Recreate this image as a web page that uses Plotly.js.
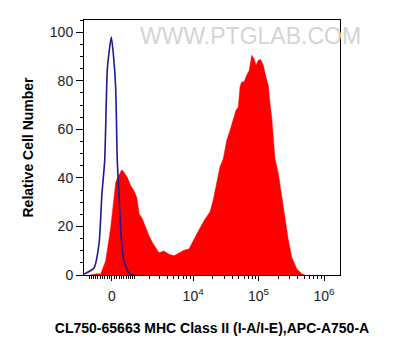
<!DOCTYPE html>
<html>
<head>
<meta charset="utf-8">
<script src="https://cdn.plot.ly/plotly-3.0.1.min.js"></script>
<style>html,body{margin:0;padding:0;background:#fff;}#chart{width:393px;height:356px;}</style>
</head>
<body>
<div id="chart"></div>
<script>
// Fluorescence values (APC-A750-A) and relative cell counts
const sampleX = [-988, -639, -472, -259, -53, 81, 151, 217, 317, 403, 503, 653, 818, 988, 1141, 1281, 1487, 1723, 1977, 2264, 2604, 2911, 3510, 4216, 5055, 6048, 7232, 8635, 10309, 12327, 14701, 16166, 18152, 20387, 22975, 25800, 28967, 32638, 36662, 41173, 45266, 49088, 52104, 55318, 59984, 65948, 72259, 78628, 85229, 91424, 99125, 107868, 118174, 129928, 140929, 149614, 158820, 168026, 178274, 200218, 225636, 253428, 284636, 320766, 382314, 455963, 512068];
const sampleY = [0, 0.5, 0.4, 5.8, 19.4, 30.6, 38.1, 39.7, 41.7, 43.3, 42.3, 40.2, 36.8, 34.7, 31.9, 25.2, 23.1, 19.5, 16.1, 13.3, 10.7, 9.2, 9.9, 8.5, 7.9, 9.2, 10.2, 10.7, 14.9, 18.6, 22.3, 24.0, 26.0, 31.0, 37.7, 44.6, 47.9, 55.4, 59.5, 63.6, 67.8, 69.1, 77.4, 79.5, 79.5, 82.2, 84.3, 90.5, 89.1, 86.4, 88.4, 88.7, 86.4, 81.5, 78.1, 70.7, 65.0, 56.7, 47.9, 41.9, 32.2, 22.7, 14.5, 7.4, 2.6, 0.5, 0];
const controlX = [-1333, -783, -546, -416, -300, -193, -123, -29, 53, 150, 217, 288, 385, 503, 735, 988];
const controlY = [0.4, 2.9, 12.8, 33.5, 47.1, 84.3, 91.3, 98, 91.3, 77.3, 47.1, 33.5, 15.3, 5.8, 0.8, 0];
const majorTickValues = [0, 1e4, 1e5, 1e6];
const majorTickText = ['0', '10<sup>4</sup>', '10<sup>5</sup>', '10<sup>6</sup>'];
const minorTickValues = [-1000,-900,-800,-700,-600,-500,-400,-300,-200,-100,100,200,300,400,500,600,700,800,900,1000,
  2000,3000,4000,5000,6000,7000,8000,9000,20000,30000,40000,50000,60000,70000,80000,90000,
  200000,300000,400000,500000,600000,700000,800000,900000];

// biexponential-like (arcsinh) display transform
const W = 579;
function T(v){ return Math.asinh(v/(2*W))/Math.LN10; }

const font = "Liberation Sans, Arial, sans-serif";

const traces = [
  {x: sampleX.map(T), y: sampleY, type:'scatter', mode:'lines', fill:'tozeroy',
   fillcolor:'#ff0000', line:{color:'#ff0000', width:0.5}, hoverinfo:'skip', showlegend:false},
  {x: controlX.map(T), y: controlY, type:'scatter', mode:'lines',
   line:{color:'#1c1c8f', width:1.6, shape:'spline', smoothing:0.6}, hoverinfo:'skip', showlegend:false}
];

const layout = {
  width:393, height:356,
  margin:{l:84, r:53, t:20, b:81},
  paper_bgcolor:'#fff', plot_bgcolor:'#fff',
  font:{family:font, size:14, color:'#222'},
  showlegend:false,
  xaxis:{
    range:[-0.427, 3.481], showgrid:false, zeroline:false,
    showline:true, linecolor:'#000', linewidth:1, mirror:true,
    tickmode:'array', tickvals: majorTickValues.map(T), ticktext: majorTickText,
    ticks:'outside', ticklen:5, tickwidth:1, tickcolor:'#000',
    ticklabelstandoff:3,
    tickfont:{family:font, size:14, color:'#222'},
    minor:{tickmode:'array', tickvals: minorTickValues.map(T), ticks:'outside', ticklen:3, tickwidth:1, tickcolor:'#000', showgrid:false},
    title:{text:'CL750-65663 MHC Class II (I-A/I-E),APC-A750-A', font:{family:font, size:14, color:'#000', weight:'bold'}, standoff:20}
  },
  yaxis:{
    range:[0,105], showgrid:false, zeroline:false,
    showline:true, linecolor:'#000', linewidth:1, mirror:true,
    tickmode:'array', tickvals:[0,20,40,60,80,100],
    ticks:'outside', ticklen:7, tickwidth:1, tickcolor:'#000',
    tickfont:{family:font, size:14, color:'#222'},
    minor:{dtick:5, ticks:'outside', ticklen:3, tickwidth:1, tickcolor:'#000', showgrid:false},
    title:{text:'Relative Cell Number', font:{family:font, size:14, color:'#000', weight:'bold'}, standoff:12}
  },
  annotations:[{
    text:'WWW.PTGLAB.COM', xref:'paper', yref:'paper', x:0.652, y:0.939,
    xanchor:'center', yanchor:'middle', showarrow:false,
    font:{family:font, size:23, color:'#d4d4d4'}
  }]
};

Plotly.newPlot('chart', traces, layout, {staticPlot:true, displayModeBar:false});
</script>
</body>
</html>
